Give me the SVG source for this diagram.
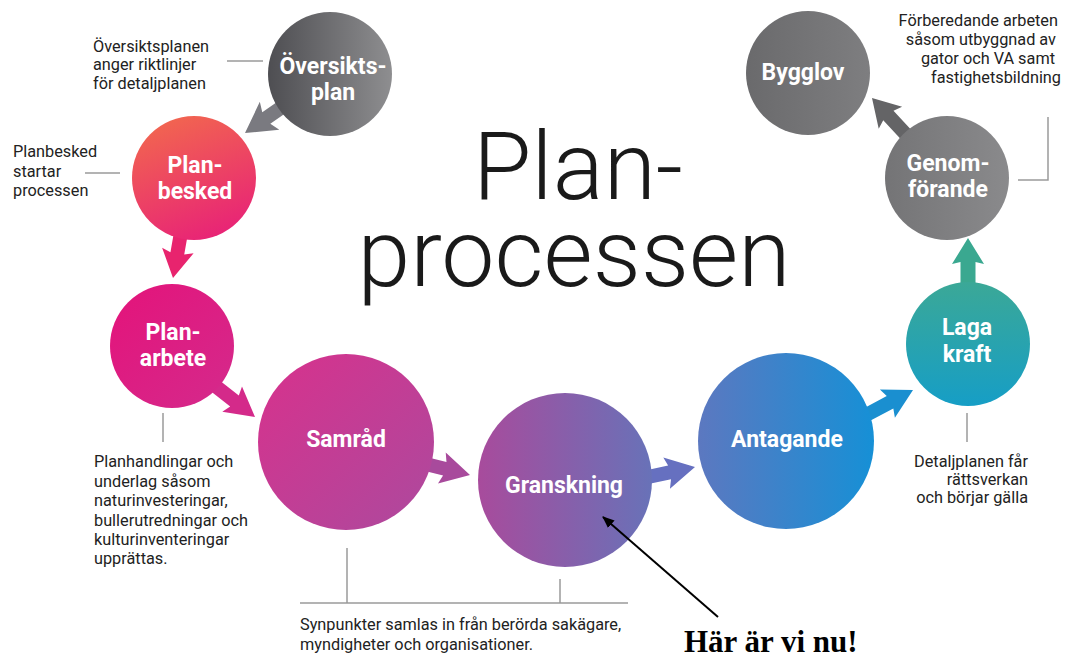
<svg xmlns="http://www.w3.org/2000/svg" width="1065" height="659" viewBox="0 0 1065 659">
<defs>
<linearGradient id="gOver" x1="0" y1="0" x2="1" y2="0"><stop offset="0" stop-color="#4e4e52"/><stop offset="1" stop-color="#8e8e90"/></linearGradient>
<linearGradient id="gBesk" x1="0.2" y1="0" x2="0.6" y2="1"><stop offset="0" stop-color="#f2684e"/><stop offset="1" stop-color="#e82476"/></linearGradient>
<linearGradient id="gArb" x1="0" y1="0" x2="1" y2="1"><stop offset="0" stop-color="#e4137a"/><stop offset="1" stop-color="#d42a8c"/></linearGradient>
<linearGradient id="gSam" x1="0" y1="0" x2="1" y2="1"><stop offset="0" stop-color="#d8318c"/><stop offset="1" stop-color="#ac4a9e"/></linearGradient>
<linearGradient id="gGran" x1="0" y1="0" x2="1" y2="0"><stop offset="0" stop-color="#a84b9c"/><stop offset="1" stop-color="#6872b8"/></linearGradient>
<linearGradient id="gAnt" x1="0" y1="0" x2="1" y2="0"><stop offset="0" stop-color="#5c78c0"/><stop offset="1" stop-color="#1690d6"/></linearGradient>
<linearGradient id="gLaga" x1="0" y1="0" x2="0" y2="1"><stop offset="0" stop-color="#3ba897"/><stop offset="1" stop-color="#169ec6"/></linearGradient>
<linearGradient id="gGen" x1="0" y1="0" x2="1" y2="0"><stop offset="0" stop-color="#747476"/><stop offset="1" stop-color="#8a8a8c"/></linearGradient>
<linearGradient id="gByg" x1="0" y1="0" x2="1" y2="0"><stop offset="0" stop-color="#6a6a6c"/><stop offset="1" stop-color="#7e7e80"/></linearGradient>
<marker id="blk" markerWidth="12" markerHeight="10" refX="11" refY="5" orient="auto" markerUnits="userSpaceOnUse"><path d="M0,0 L12,5 L0,10 Z" fill="#000"/></marker>
</defs>
<style>
.lbl{font-family:Roboto,"Liberation Sans",sans-serif;font-weight:bold;font-size:23px;fill:#fff;text-anchor:middle}
.ann{font-family:Roboto,"Liberation Sans",sans-serif;font-size:16.3px;fill:#222}
.ln{stroke:#9a9a9a;stroke-width:1.5;fill:none}
.title{font-family:Roboto,"Liberation Sans",sans-serif;font-weight:300;font-size:95px;fill:#1a1a1a;text-anchor:middle}
</style>
<rect width="1065" height="659" fill="#fff"/>

<g id="title">
<text class="title" x="578" y="199">Plan-</text>
<text class="title" x="574" y="286">processen</text>
</g>

<g id="connectors">
<path transform="translate(245,133) rotate(145)" d="M0,0 L-30,-17 L-26,-7 L-62,-7 L-62,7 L-26,7 L-30,17 Z" fill="#7a7a80"/>
<path transform="translate(173,278) rotate(100)" d="M0,0 L-28,-16 L-25,-7 L-55,-7 L-55,7 L-25,7 L-28,16 Z" fill="#e8246e"/>
<path transform="translate(255,417) rotate(38)" d="M0,0 L-29,-16 L-26,-7 L-60,-7 L-60,7 L-26,7 L-29,16 Z" fill="#d42a8a"/>
<path transform="translate(470,475) rotate(14)" d="M0,0 L-29,-16 L-26,-7 L-55,-7 L-55,7 L-26,7 L-29,16 Z" fill="#a84a9c"/>
<path transform="translate(695,467) rotate(-12)" d="M0,0 L-29,-16 L-26,-7 L-60,-7 L-60,7 L-26,7 L-29,16 Z" fill="#6670c0"/>
<path transform="translate(913,390) rotate(-28)" d="M0,0 L-29,-16 L-26,-7 L-55,-7 L-55,7 L-26,7 L-29,16 Z" fill="#1a8fd0"/>
<path transform="translate(968,238) rotate(-90)" d="M0,0 L-26,-16 L-24,-7.5 L-60,-7.5 L-60,7.5 L-24,7.5 L-26,16 Z" fill="#3aa890"/>
<path transform="translate(872,98) rotate(-133)" d="M0,0 L-27,-16 L-24,-7 L-58,-7 L-58,7 L-24,7 L-27,16 Z" fill="#646466"/>
</g>

<g id="oversiktsplan">
<circle cx="330" cy="74" r="62" fill="url(#gOver)"/>
<text class="lbl" x="333" y="74">Översikts-</text>
<text class="lbl" x="333" y="100">plan</text>
</g>
<g id="planbesked">
<circle cx="194" cy="178" r="62" fill="url(#gBesk)"/>
<text class="lbl" x="195" y="173">Plan-</text>
<text class="lbl" x="195" y="199">besked</text>
</g>
<g id="planarbete">
<circle cx="172" cy="346" r="62" fill="url(#gArb)"/>
<text class="lbl" x="173" y="340">Plan-</text>
<text class="lbl" x="173" y="366">arbete</text>
</g>
<g id="samrad">
<circle cx="346" cy="442" r="88" fill="url(#gSam)"/>
<text class="lbl" x="346" y="447">Samråd</text>
</g>
<g id="granskning">
<circle cx="565" cy="480" r="87" fill="url(#gGran)"/>
<text class="lbl" x="564" y="493">Granskning</text>
</g>
<g id="antagande">
<circle cx="786" cy="441" r="88" fill="url(#gAnt)"/>
<text class="lbl" x="787" y="447">Antagande</text>
</g>
<g id="lagakraft">
<circle cx="968" cy="344" r="62" fill="url(#gLaga)"/>
<text class="lbl" x="967" y="335">Laga</text>
<text class="lbl" x="967" y="362">kraft</text>
</g>
<g id="genomforande">
<circle cx="947" cy="178" r="62" fill="url(#gGen)"/>
<text class="lbl" x="948" y="171">Genom-</text>
<text class="lbl" x="948" y="197">förande</text>
</g>
<g id="bygglov">
<circle cx="808" cy="73" r="62" fill="url(#gByg)"/>
<text class="lbl" x="803" y="80">Bygglov</text>
</g>

<g id="pointer">
<line x1="718" y1="617" x2="603" y2="517" stroke="#000" stroke-width="2" marker-end="url(#blk)"/>
</g>

<g id="ann-oversikt">
<line class="ln" x1="227" y1="61" x2="263" y2="61"/>
<text class="ann" x="93" y="52">Översiktsplanen</text>
<text class="ann" x="93" y="70">anger riktlinjer</text>
<text class="ann" x="93" y="89">för detaljplanen</text>
</g>
<g id="ann-besked">
<line class="ln" x1="85" y1="173" x2="120" y2="173"/>
<text class="ann" x="13" y="157">Planbesked</text>
<text class="ann" x="13" y="177">startar</text>
<text class="ann" x="13" y="196">processen</text>
</g>
<g id="ann-arbete">
<line class="ln" x1="163" y1="413" x2="163" y2="442"/>
<text class="ann" x="94" y="467">Planhandlingar och</text>
<text class="ann" x="94" y="487">underlag såsom</text>
<text class="ann" x="94" y="506">naturinvesteringar,</text>
<text class="ann" x="94" y="526">bullerutredningar och</text>
<text class="ann" x="94" y="545">kulturinventeringar</text>
<text class="ann" x="94" y="564">upprättas.</text>
</g>
<g id="ann-samrad">
<path class="ln" d="M347,548 V603 M560,579 V603 M300,603 H628"/>
<text class="ann" x="300" y="630">Synpunkter samlas in från berörda sakägare,</text>
<text class="ann" x="300" y="650">myndigheter och organisationer.</text>
</g>
<g id="ann-laga">
<line class="ln" x1="967" y1="413" x2="967" y2="442"/>
<text class="ann" x="1028" y="467" text-anchor="end">Detaljplanen får</text>
<text class="ann" x="1028" y="485" text-anchor="end">rättsverkan</text>
<text class="ann" x="1028" y="503" text-anchor="end">och börjar gälla</text>
</g>
<g id="ann-genom">
<path class="ln" d="M1048,117 V180 H1018"/>
<text class="ann" x="1058" y="26" text-anchor="end">Förberedande arbeten</text>
<text class="ann" x="1056" y="45" text-anchor="end">såsom utbyggnad av</text>
<text class="ann" x="1055" y="64" text-anchor="end">gator och VA samt</text>
<text class="ann" x="1061" y="83" text-anchor="end">fastighetsbildning</text>
</g>
<g id="here">
<text x="684" y="652" font-family="'Liberation Serif',serif" font-weight="bold" font-size="31" fill="#000">Här är vi nu!</text>
</g>
</svg>
